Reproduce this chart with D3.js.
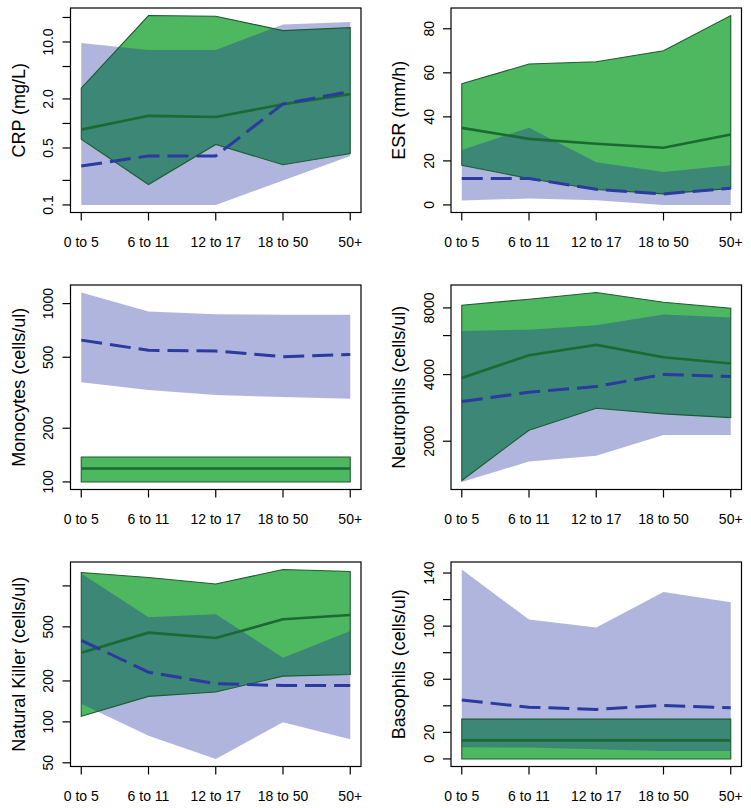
<!DOCTYPE html>
<html>
<head>
<meta charset="utf-8">
<script src="https://cdn.jsdelivr.net/npm/d3@7/dist/d3.min.js"></script>
<style>
  html, body { margin: 0; padding: 0; background: #fff; }
  svg text { font-family: "Liberation Sans", Arial, sans-serif; fill: #000; }
</style>
</head>
<body>
<svg id="chart" width="751" height="808"></svg>
<script>
// ---------- data ----------
const categories = ["0 to 5", "6 to 11", "12 to 17", "18 to 50", "50+"];

// CRP (mg/L), log scale
const crpGreenLow  = [0.64, 0.178, 0.553, 0.311, 0.428];
const crpGreenHigh = [2.71, 21.1, 20.7, 13.8, 15.0];
const crpGreenMed  = [0.84, 1.24, 1.20, 1.72, 2.29];
const crpBlueLow   = [0.1, 0.1, 0.1, 0.2, 0.40];
const crpBlueHigh  = [9.7, 8.0, 8.0, 16.4, 17.6];
const crpBlueMed   = [0.30, 0.40, 0.40, 1.74, 2.47];
const crpTicks     = [0.1, 0.2, 0.5, 1, 2, 5, 10, 20];
const crpTickLabels = ["0.1", "", "0.5", "", "2.0", "", "10.0", ""];

// ESR (mm/h), linear
const esrGreenLow  = [18, 12, 7, 5, 7.5];
const esrGreenHigh = [55, 64, 65, 70, 86];
const esrGreenMed  = [35, 30, 27.8, 26, 32];
const esrBlueLow   = [2, 2.9, 2.1, 0, 0];
const esrBlueHigh  = [25, 35, 19.4, 15, 18];
const esrBlueMed   = [12, 12, 7.1, 5, 7.6];
const esrTicks     = [0, 20, 40, 60, 80];
const esrTickLabels = ["0", "20", "40", "60", "80"];

// Monocytes (cells/ul), log scale
const monoGreenLow  = [100, 100, 100, 100, 100];
const monoGreenHigh = [138, 138, 138, 138, 138];
const monoGreenMed  = [119, 119, 119, 119, 119];
const monoBlueLow   = [362, 328, 307, 299, 293];
const monoBlueHigh  = [1153, 902, 871, 866, 866];
const monoBlueMed   = [624, 547, 542, 504, 519];
const monoTicks     = [100, 200, 500, 1000];
const monoTickLabels = ["100", "200", "500", "1000"];

// Neutrophils (cells/ul), log scale
const neuGreenLow  = [1329, 2243, 2820, 2658, 2556];
const neuGreenHigh = [8224, 8758, 9384, 8486, 7971];
const neuGreenMed  = [3863, 4891, 5445, 4789, 4485];
const neuBlueLow   = [1310, 1618, 1718, 2136, 2136];
const neuBlueHigh  = [6300, 6383, 6681, 7464, 7236];
const neuBlueMed   = [3022, 3329, 3532, 4006, 3917];
const neuTicks     = [2000, 4000, 6000, 8000];
const neuTickLabels = ["2000", "4000", "", "8000"];

// Natural Killer (cells/ul), log scale
const nkGreenLow  = [110, 154, 166, 217, 223];
const nkGreenHigh = [1254, 1152, 1034, 1319, 1276];
const nkGreenMed  = [323, 453, 414, 568, 611];
const nkBlueLow   = [136, 79, 53.4, 99.4, 74.5];
const nkBlueHigh  = [1233, 588, 618, 296, 466];
const nkBlueMed   = [398, 232, 191, 185, 185];
const nkTicks     = [50, 100, 200, 500, 1000];
const nkTickLabels = ["50", "100", "200", "500", ""];

// Basophils (cells/ul), linear
const basoGreenLow  = [0, 0, 0, 0, 0];
const basoGreenHigh = [30, 30, 30, 30, 30];
const basoGreenMed  = [14, 14, 14, 14, 14];
const basoBlueLow   = [8.8, 8.6, 7.3, 6, 6];
const basoBlueHigh  = [142.6, 105, 99, 125.7, 118];
const basoBlueMed   = [44.3, 39, 37.3, 40.3, 38.5];
const basoTicks     = [0, 20, 40, 60, 80, 100, 120, 140];
const basoTickLabels = ["0", "20", "", "60", "", "100", "", "140"];

// ---------- panels ----------
const panels = [
  { title: "CRP (mg/L)", log: true, gLow: crpGreenLow, gHigh: crpGreenHigh, gMed: crpGreenMed,
    bLow: crpBlueLow, bHigh: crpBlueHigh, bMed: crpBlueMed, ticks: crpTicks, labels: crpTickLabels },
  { title: "ESR (mm/h)", log: false, gLow: esrGreenLow, gHigh: esrGreenHigh, gMed: esrGreenMed,
    bLow: esrBlueLow, bHigh: esrBlueHigh, bMed: esrBlueMed, ticks: esrTicks, labels: esrTickLabels },
  { title: "Monocytes (cells/ul)", log: true, gLow: monoGreenLow, gHigh: monoGreenHigh, gMed: monoGreenMed,
    bLow: monoBlueLow, bHigh: monoBlueHigh, bMed: monoBlueMed, ticks: monoTicks, labels: monoTickLabels },
  { title: "Neutrophils (cells/ul)", log: true, gLow: neuGreenLow, gHigh: neuGreenHigh, gMed: neuGreenMed,
    bLow: neuBlueLow, bHigh: neuBlueHigh, bMed: neuBlueMed, ticks: neuTicks, labels: neuTickLabels },
  { title: "Natural Killer (cells/ul)", log: true, gLow: nkGreenLow, gHigh: nkGreenHigh, gMed: nkGreenMed,
    bLow: nkBlueLow, bHigh: nkBlueHigh, bMed: nkBlueMed, ticks: nkTicks, labels: nkTickLabels },
  { title: "Basophils (cells/ul)", log: false, gLow: basoGreenLow, gHigh: basoGreenHigh, gMed: basoGreenMed,
    bLow: basoBlueLow, bHigh: basoBlueHigh, bMed: basoBlueMed, ticks: basoTicks, labels: basoTickLabels }
];

// ---------- layout ----------
const colLeft = [70.5, 451];
const rowTop = [8, 285, 562];
const pw = 290.5, ph = 204.5;

const svg = d3.select("#chart");

const GREEN_FILL = "#4db85f";
const GREEN_EDGE = "#1d5c33";
const GREEN_LINE = "#1b6a31";
const BLUE_BAND = "rgb(29,44,161)";
const BLUE_ALPHA = 0.35;
const BLUE_LINE = "#2a3a9f";

panels.forEach((p, i) => {
  const x0 = colLeft[i % 2];
  const y0 = rowTop[Math.floor(i / 2)];
  const g = svg.append("g").attr("transform", `translate(${x0},${y0})`);

  // x scale with R-style 4% padding
  const xs = d3.scaleLinear().domain([-0.16, 4.16]).range([0, pw]);

  const all = [].concat(p.gLow, p.gHigh, p.gMed, p.bLow, p.bHigh, p.bMed);
  let ys;
  if (p.log) {
    const lo = Math.log10(d3.min(all)), hi = Math.log10(d3.max(all));
    const pad = (hi - lo) * 0.04;
    ys = d3.scaleLog().domain([Math.pow(10, lo - pad), Math.pow(10, hi + pad)]).range([ph, 0]);
  } else {
    const lo = d3.min(all), hi = d3.max(all);
    const pad = (hi - lo) * 0.04;
    ys = d3.scaleLinear().domain([lo - pad, hi + pad]).range([ph, 0]);
  }

  const idx = d3.range(categories.length);
  const band = (low, high) => d3.area()
    .x(d => xs(d)).y0(d => ys(low[d])).y1(d => ys(high[d]))(idx);
  const line = (vals) => d3.line().x(d => xs(d)).y(d => ys(vals[d]))(idx);

  // green band
  g.append("path").attr("d", band(p.gLow, p.gHigh)).attr("fill", GREEN_FILL);
  // blue band (translucent)
  g.append("path").attr("d", band(p.bLow, p.bHigh))
    .attr("fill", BLUE_BAND).attr("fill-opacity", BLUE_ALPHA);
  // green band outline
  g.append("path").attr("d", band(p.gLow, p.gHigh) )
    .attr("fill", "none").attr("stroke", GREEN_EDGE).attr("stroke-width", 1.1);
  // green median
  g.append("path").attr("d", line(p.gMed)).attr("fill", "none")
    .attr("stroke", GREEN_LINE).attr("stroke-width", 2.6);
  // blue dashed median
  g.append("path").attr("d", line(p.bMed)).attr("fill", "none")
    .attr("stroke", BLUE_LINE).attr("stroke-width", 3)
    .attr("stroke-dasharray", "21,8");

  // box
  g.append("rect").attr("x", 0).attr("y", 0).attr("width", pw).attr("height", ph)
    .attr("fill", "none").attr("stroke", "#000").attr("stroke-width", 1.2);

  // x axis
  const xa = g.append("g").attr("transform", `translate(0,${ph})`);
  idx.forEach(d => {
    xa.append("line").attr("x1", xs(d)).attr("x2", xs(d)).attr("y1", 0).attr("y2", 8)
      .attr("stroke", "#000").attr("stroke-width", 1.2);
    xa.append("text").attr("x", xs(d)).attr("y", 34).attr("text-anchor", "middle")
      .attr("font-size", 14).text(categories[d]);
  });

  // y axis
  const ya = g.append("g");
  p.ticks.forEach((t, k) => {
    const yy = ys(t);
    ya.append("line").attr("x1", 0).attr("x2", -8).attr("y1", yy).attr("y2", yy)
      .attr("stroke", "#000").attr("stroke-width", 1.2);
    if (p.labels[k]) {
      ya.append("text").attr("transform", `translate(-17.5,${yy}) rotate(-90)`)
        .attr("text-anchor", "middle").attr("font-size", 14).text(p.labels[k]);
    }
  });

  // y title
  g.append("text").attr("transform", `translate(-46,${ph / 2}) rotate(-90)`)
    .attr("text-anchor", "middle").attr("font-size", 18).text(p.title);
});
</script>
</body>
</html>
